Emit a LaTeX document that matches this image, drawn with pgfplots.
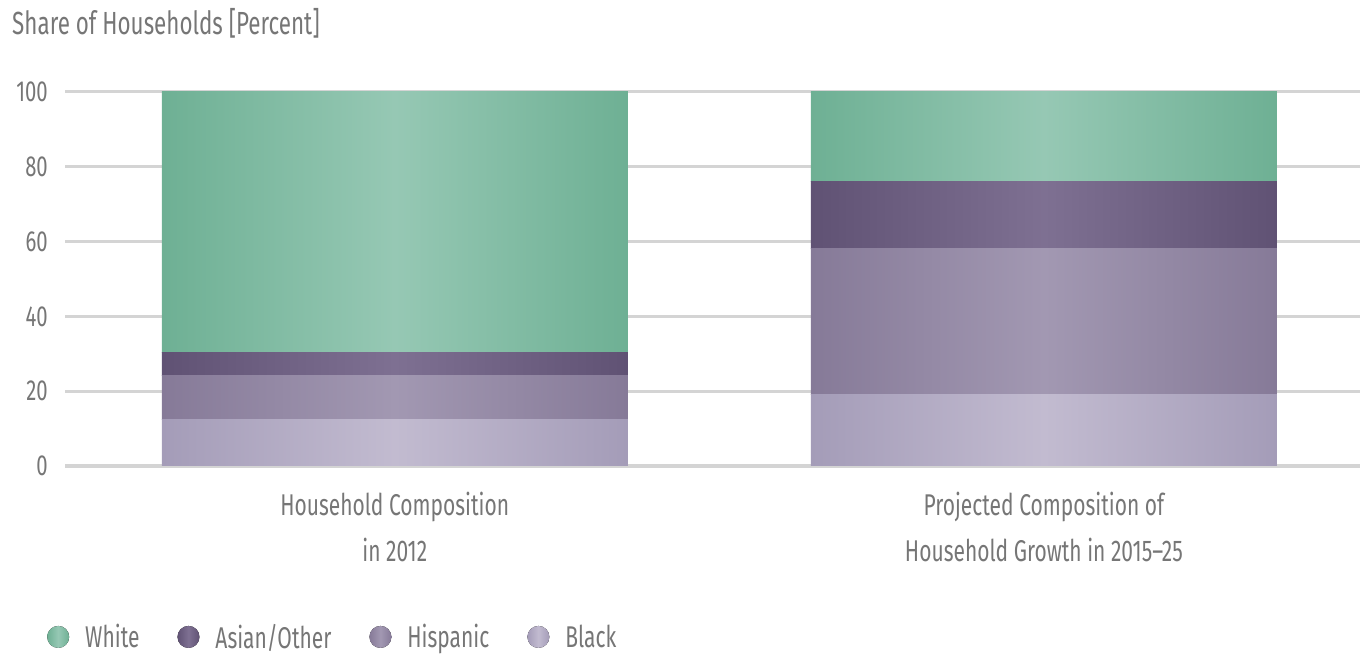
\documentclass[border=0pt]{standalone}
\usepackage{pgfplots}
\pgfplotsset{compat=1.18}
\usepackage{fontspec}
\setmainfont{Fira Sans}[FakeStretch=0.7]
\definecolor{txt}{RGB}{118,118,118}
\definecolor{gridc}{RGB}{212,212,212}
\definecolor{whE}{RGB}{110,176,148}
\definecolor{whM}{RGB}{150,200,180}
\definecolor{asE}{RGB}{96,82,116}
\definecolor{asM}{RGB}{126,112,146}
\definecolor{hiE}{RGB}{134,122,152}
\definecolor{hiM}{RGB}{162,152,178}
\definecolor{blE}{RGB}{164,156,184}
\definecolor{blM}{RGB}{194,187,208}
\pgfplotsset{
  base/.style={
    at={(65bp,189bp)}, anchor=south west,
    scale only axis, width=1295bp, height=374bp,
    xmin=-0.508, xmax=1.487, ymin=0, ymax=100,
    ybar stacked, bar width=466bp,
  },
  sBlack/.style={draw=none, left color=blE, right color=blE, middle color=blM},
  sHisp/.style={draw=none, left color=hiE, right color=hiE, middle color=hiM},
  sAsian/.style={draw=none, left color=asE, right color=asE, middle color=asM},
  sWhite/.style={draw=none, left color=whE, right color=whE, middle color=whM},
}
\begin{document}
\begin{tikzpicture}
\useasboundingbox (0,0) rectangle (1360bp,655bp);
% first bar, with all axis decorations
\begin{axis}[
  base,
  axis line style={draw=none}, major tick length=0pt,
  ymajorgrids, grid style={draw=gridc, line width=3bp},
  ytick={0,20,40,60,80,100},
  xtick={0,1},
  xticklabels={{Household Composition\\in 2012},{Projected Composition of\\Household Growth in 2015--25}},
  /pgf/number format/assume math mode=true,
  yticklabel style={anchor=east, inner sep=0pt, xshift=-17bp, text=txt, font=\fontsize{29bp}{36bp}\selectfont},
  xticklabel style={anchor=north, align=center, inner sep=0pt, yshift=-26bp, text=txt, font=\fontsize{30bp}{46bp}\selectfont},
  title={Share of Households [Percent]},
  title style={at={(axis description cs:-0.0409,1.139)}, anchor=base west, inner sep=0pt, text=txt, font=\fontsize{32bp}{38bp}\selectfont},
  reverse legend,
  legend columns=4,
  legend image code/.code={\fill[#1] (11bp,0bp) circle (11bp);},
  legend style={at={(axis description cs:-0.0139,-0.457)}, anchor=west, draw=none, fill=none, inner sep=0pt,
    font=\fontsize{30bp}{36bp}\selectfont, text=txt,
    nodes={inner sep=0pt, anchor=west},
    /tikz/every odd column/.append style={column sep=16bp},
    /tikz/every even column/.append style={column sep=38bp}},
]
\addplot[sBlack] coordinates {(0,12.3)};
\addlegendentry{Black}
\addplot[sHisp] coordinates {(0,12)};
\addlegendentry{Hispanic}
\addplot[sAsian] coordinates {(0,6)};
\addlegendentry{Asian/Other}
\addplot[sWhite] coordinates {(0,69.7)};
\addlegendentry{White}
\end{axis}
% second bar
\begin{axis}[base, hide axis]
\addplot[sBlack] coordinates {(1,19)};
\addplot[sHisp] coordinates {(1,39.2)};
\addplot[sAsian] coordinates {(1,17.8)};
\addplot[sWhite] coordinates {(1,24)};
\end{axis}
\end{tikzpicture}
\end{document}
